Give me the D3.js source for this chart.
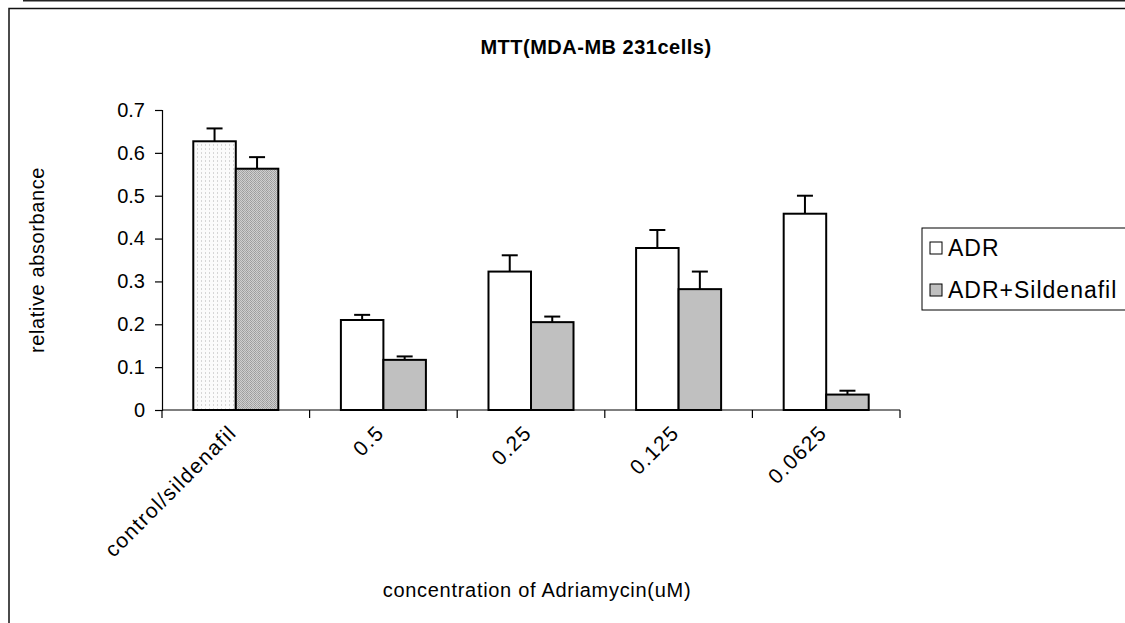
<!DOCTYPE html>
<html>
<head>
<meta charset="utf-8">
<script src="https://cdn.jsdelivr.net/npm/d3@7"></script>
<style>
  html, body { margin: 0; padding: 0; background: #fff; }
  svg { display: block; font-family: "Liberation Sans", Arial, sans-serif; }
</style>
</head>
<body>
<svg id="chart" width="1125" height="623"></svg>
<script>
// MTT assay, MDA-MB 231 cells
const categories = ["control/sildenafil", "0.5", "0.25", "0.125", "0.0625"];
const seriesNames = ["ADR", "ADR+Sildenafil"];
const adrValues = [0.627, 0.210, 0.323, 0.378, 0.458];
const adrErrors = [0.030, 0.012, 0.038, 0.042, 0.042];
const sildValues = [0.563, 0.117, 0.205, 0.282, 0.036];
const sildErrors = [0.027, 0.008, 0.013, 0.041, 0.009];
const yTicks = [0, 0.1, 0.2, 0.3, 0.4, 0.5, 0.6, 0.7];

const svg = d3.select("#chart");
const defs = svg.append("defs");

// fine dotted fill for the control bar of the first series
const dots = defs.append("pattern").attr("id", "dots")
  .attr("width", 4).attr("height", 4).attr("patternUnits", "userSpaceOnUse");
dots.append("rect").attr("width", 4).attr("height", 4).attr("fill", "#fbfbfb");
dots.append("rect").attr("x", 1).attr("y", 0).attr("width", 1).attr("height", 2).attr("fill", "#d6d6d6");

// dense cross-hatch fill for the control bar of the second series
const hatch = defs.append("pattern").attr("id", "hatch")
  .attr("width", 4).attr("height", 4).attr("patternUnits", "userSpaceOnUse");
hatch.append("rect").attr("width", 4).attr("height", 4).attr("fill", "#cfcfcf");
[[0, 0], [2, 0], [1, 1], [3, 1], [0, 2], [2, 2], [1, 3], [3, 3]].forEach(([px, py], k) => {
  hatch.append("rect").attr("x", px).attr("y", py).attr("width", 1).attr("height", 1)
    .attr("fill", k % 2 ? "#9c9c9c" : "#a8a8a8");
});

// page rules and chart frame
svg.append("line").attr("x1", 23).attr("x2", 1125).attr("y1", 0.5).attr("y2", 0.5)
  .attr("stroke", "#222").attr("stroke-width", 2);
svg.append("rect").attr("x", 9).attr("y", 8.5).attr("width", 1130).attr("height", 630)
  .attr("fill", "none").attr("stroke", "#111").attr("stroke-width", 1.5);

const margin = { left: 162, right: 900, top: 110, bottom: 410 };

const x = d3.scaleBand().domain(categories).range([margin.left, margin.right]).paddingInner(0).paddingOuter(0);
const y = d3.scaleLinear().domain([0, 0.7]).range([margin.bottom, margin.top]);

const barW = x.bandwidth() * 0.288;
const groupOffset = (x.bandwidth() - 2 * barW) / 2;

// title
svg.append("text").attr("x", 596).attr("y", 54).attr("text-anchor", "middle")
  .attr("font-size", 20).attr("letter-spacing", 0.5).attr("font-weight", "bold")
  .text("MTT(MDA-MB 231cells)");

// y axis
const yAxis = svg.append("g").attr("transform", `translate(${margin.left},0)`)
  .call(d3.axisLeft(y).tickValues(yTicks).tickFormat(d => d === 0 ? "0" : d3.format(".1f")(d)).tickSize(7).tickPadding(10));
yAxis.select(".domain").attr("stroke", "#000").attr("stroke-width", 1.2);
yAxis.selectAll(".tick line").attr("stroke", "#000").attr("stroke-width", 1.2);
yAxis.selectAll(".tick text").attr("font-size", 20).attr("fill", "#000")
  .attr("font-family", "Liberation Sans, Arial, sans-serif");

svg.append("text").attr("transform", `translate(44,260) rotate(-90)`)
  .attr("text-anchor", "middle").attr("font-size", 20).attr("letter-spacing", 0.6)
  .text("relative absorbance");

// x axis with boundary ticks between categories
const xAxisG = svg.append("g").attr("transform", `translate(0,${margin.bottom})`);
xAxisG.append("line").attr("x1", margin.left).attr("x2", margin.right)
  .attr("stroke", "#000").attr("stroke-width", 1.2);
const boundaries = categories.map(c => x(c)).concat([x(categories[categories.length - 1]) + x.bandwidth()]);
xAxisG.selectAll("line.tk").data(boundaries).join("line").attr("class", "tk")
  .attr("x1", d => d).attr("x2", d => d).attr("y1", 0).attr("y2", 8)
  .attr("stroke", "#000").attr("stroke-width", 1.2);
xAxisG.selectAll("text.lab").data(categories).join("text").attr("class", "lab")
  .attr("transform", d => `translate(${x(d) + x.bandwidth() / 2 + 2},${24}) rotate(-45)`)
  .attr("text-anchor", "end").attr("font-size", 21).attr("letter-spacing", 1.4).text(d => d);

svg.append("text").attr("x", 537).attr("y", 597).attr("text-anchor", "middle")
  .attr("font-size", 20).attr("letter-spacing", 0.7).text("concentration of Adriamycin(uM)");

// bars
const rows = categories.map((c, i) => [
  { cat: c, s: 0, v: adrValues[i], e: adrErrors[i], fill: i === 0 ? "url(#dots)" : "#ffffff" },
  { cat: c, s: 1, v: sildValues[i], e: sildErrors[i], fill: i === 0 ? "url(#hatch)" : "#c0c0c0" }
]).flat();

const bx = d => x(d.cat) + groupOffset + d.s * barW;

svg.append("g").selectAll("rect").data(rows).join("rect")
  .attr("x", bx).attr("y", d => y(d.v))
  .attr("width", barW).attr("height", d => y(0) - y(d.v))
  .attr("fill", d => d.fill).attr("stroke", "#000").attr("stroke-width", 2);

// upper error bars
const eb = svg.append("g").attr("stroke", "#000").attr("stroke-width", 2);
eb.selectAll("line.v").data(rows).join("line").attr("class", "v")
  .attr("x1", d => bx(d) + barW / 2).attr("x2", d => bx(d) + barW / 2)
  .attr("y1", d => y(d.v)).attr("y2", d => y(d.v + d.e));
eb.selectAll("line.c").data(rows).join("line").attr("class", "c")
  .attr("x1", d => bx(d) + barW / 2 - 8).attr("x2", d => bx(d) + barW / 2 + 8)
  .attr("y1", d => y(d.v + d.e)).attr("y2", d => y(d.v + d.e));

// legend
const lg = svg.append("g");
lg.append("rect").attr("x", 922).attr("y", 228).attr("width", 220).attr("height", 82)
  .attr("fill", "#fff").attr("stroke", "#000").attr("stroke-width", 1);
const legendFills = ["#ffffff", "#c0c0c0"];
seriesNames.forEach((n, i) => {
  const yy = 248 + i * 42;
  lg.append("rect").attr("x", 930).attr("y", yy - 6).attr("width", 12).attr("height", 12)
    .attr("fill", legendFills[i]).attr("stroke", "#000").attr("stroke-width", 1);
  lg.append("text").attr("x", 948).attr("y", yy + 8).attr("font-size", 23)
    .attr("letter-spacing", 1).text(n);
});
</script>
</body>
</html>
